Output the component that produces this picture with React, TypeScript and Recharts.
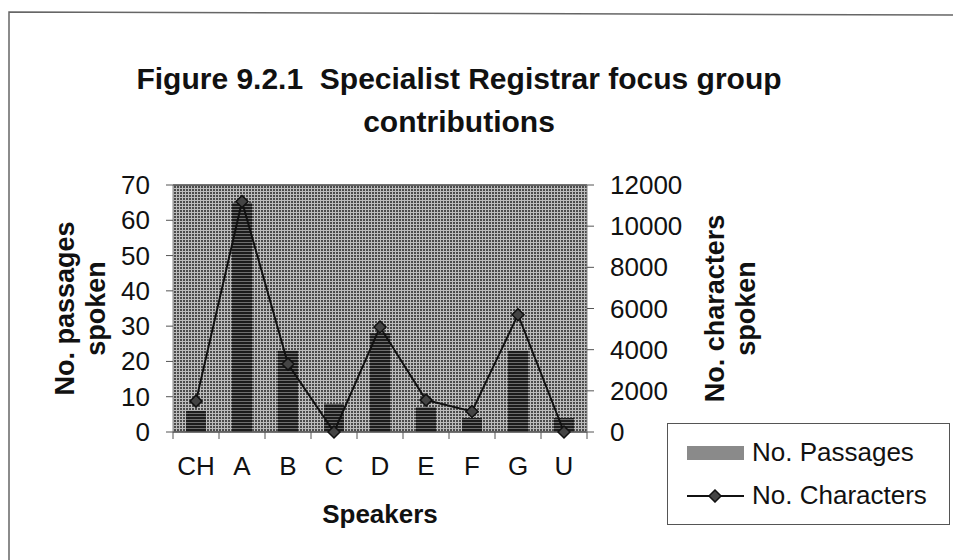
import {
  ComposedChart,
  Bar,
  Line,
  XAxis,
  YAxis,
  CartesianGrid,
  ReferenceLine,
  Label,
} from "recharts";

const categories = ["CH", "A", "B", "C", "D", "E", "F", "G", "U"];
const passages = [6, 65, 23, 8, 28, 7, 4, 23, 4];
const characters = [1500, 11200, 3300, 0, 5100, 1550, 1000, 5700, 0];
const passageTicks = [0, 10, 20, 30, 40, 50, 60, 70];
const characterTicks = [0, 2000, 4000, 6000, 8000, 10000, 12000];

const data = categories.map((name, i) => ({
  name,
  passages: passages[i],
  characters: characters[i],
}));

const FONT = "Arial, 'Liberation Sans', Helvetica, sans-serif";
const W = 953;
const H = 560;
const PLOT_LEFT = 173;
const PLOT_RIGHT = 587;
const PLOT_TOP = 185;
const PLOT_BOTTOM = 432;
const BAND = (PLOT_RIGHT - PLOT_LEFT) / categories.length;
const TICK_FONT = 26;

function LeftTick(props: any) {
  const { x, y, payload } = props;
  return (
    <text x={x} y={y} textAnchor="end" dominantBaseline="central" fontSize={TICK_FONT} fontFamily={FONT} fill="#111">
      {payload.value}
    </text>
  );
}

function RightTick(props: any) {
  const { x, y, payload } = props;
  return (
    <text x={x} y={y} textAnchor="start" dominantBaseline="central" fontSize={TICK_FONT} fontFamily={FONT} fill="#111">
      {payload.value}
    </text>
  );
}

// category labels centred, tick marks on the band boundaries
function CategoryTick(props: any) {
  const { x, payload, index } = props;
  const left = x - BAND / 2;
  const right = x + BAND / 2;
  return (
    <g>
      <line x1={left} x2={left} y1={PLOT_BOTTOM} y2={PLOT_BOTTOM + 7} stroke="#555" />
      {index === categories.length - 1 && (
        <line x1={right} x2={right} y1={PLOT_BOTTOM} y2={PLOT_BOTTOM + 7} stroke="#555" />
      )}
      <text x={x} y={PLOT_BOTTOM + 34} textAnchor="middle" dominantBaseline="central" fontSize={TICK_FONT} fontFamily={FONT} fill="#111">
        {payload.value}
      </text>
    </g>
  );
}

function Diamond(props: any) {
  const { cx, cy, index } = props;
  if (cx == null || cy == null) return <g key={index} />;
  const r = 6;
  return (
    <path
      key={index}
      d={`M${cx},${cy - r}L${cx + r},${cy}L${cx},${cy + r}L${cx - r},${cy}Z`}
      fill="#444"
      stroke="#111"
      strokeWidth={1.5}
    />
  );
}

function AxisTitle({ x, lines }: { x: number; lines: string[] }) {
  const cy = (PLOT_TOP + PLOT_BOTTOM) / 2;
  return (
    <g>
      {lines.map((t, i) => (
        <text
          key={t}
          x={x + i * 31}
          y={cy}
          transform={`rotate(-90 ${x + i * 31} ${cy})`}
          textAnchor="middle"
          dominantBaseline="central"
          fontSize={27}
          fontWeight="bold"
          fontFamily={FONT}
          fill="#111"
        >
          {t}
        </text>
      ))}
    </g>
  );
}

export default function App() {
  return (
    <div style={{ position: "relative", width: W, height: H, background: "#fff", overflow: "hidden" }}>
      <style>{`body{margin:0}`}</style>
      <ComposedChart
        width={W}
        height={H}
        data={data}
        margin={{ top: PLOT_TOP, right: 0, bottom: 0, left: 0 }}
      >
        <defs>
          <pattern id="plotBg" width="3" height="3" patternUnits="userSpaceOnUse">
            <rect width="3" height="3" fill="#bdbdbd" />
            <rect width="2" height="2" fill="#4c4c4c" />
          </pattern>
          <pattern id="barFill" width="3" height="3" patternUnits="userSpaceOnUse">
            <rect width="3" height="3" fill="#1c1c1c" />
            <rect y="2" width="3" height="1" fill="#6e6e6e" />
          </pattern>
        </defs>

        {/* chart-area frame: only the left and top edges fall inside the page */}
        <path d={`M9,${H}L9,12L${W},15`} fill="none" stroke="#666" strokeWidth={1.5} />

        <text x={459} y={78} textAnchor="middle" dominantBaseline="central" fontSize={30} fontWeight="bold" fontFamily={FONT} fill="#111" style={{ whiteSpace: "pre" }}>
          Figure 9.2.1  Specialist Registrar focus group
        </text>
        <text x={459} y={121} textAnchor="middle" dominantBaseline="central" fontSize={30} fontWeight="bold" fontFamily={FONT} fill="#111">
          contributions
        </text>

        <CartesianGrid yAxisId="p" horizontal={false} vertical={false} fill="url(#plotBg)" />

        <XAxis
          dataKey="name"
          height={H - PLOT_BOTTOM}
          tickLine={false}
          axisLine={{ stroke: "#444", strokeWidth: 1.5 }}
          tick={<CategoryTick />}
          interval={0}
        >
          <Label
            value="Speakers"
            content={() => (
              <text x={380} y={514} textAnchor="middle" dominantBaseline="central" fontSize={26} fontWeight="bold" fontFamily={FONT} fill="#111">
                Speakers
              </text>
            )}
          />
        </XAxis>
        <YAxis
          yAxisId="p"
          orientation="left"
          width={PLOT_LEFT}
          domain={[0, 70]}
          ticks={passageTicks}
          interval={0}
          tickSize={7}
          tickMargin={16}
          tickLine={{ stroke: "#555" }}
          axisLine={{ stroke: "#888" }}
          tick={<LeftTick />}
        >
          <Label content={() => <AxisTitle x={65} lines={["No. passages", "spoken"]} />} />
        </YAxis>
        <YAxis
          yAxisId="c"
          orientation="right"
          width={W - PLOT_RIGHT}
          domain={[0, 12000]}
          ticks={characterTicks}
          interval={0}
          tickSize={7}
          tickMargin={16}
          tickLine={{ stroke: "#555" }}
          axisLine={{ stroke: "#888" }}
          tick={<RightTick />}
        >
          <Label content={() => <AxisTitle x={715} lines={["No. characters", "spoken"]} />} />
        </YAxis>
        <ReferenceLine yAxisId="p" y={70} stroke="#444" strokeWidth={1.5} />

        <Bar
          yAxisId="p"
          dataKey="passages"
          name="No. Passages"
          fill="url(#barFill)"
          barSize={20}
          isAnimationActive={false}
        />
        <Line
          yAxisId="c"
          dataKey="characters"
          name="No. Characters"
          type="linear"
          stroke="#111"
          strokeWidth={2}
          dot={<Diamond />}
          activeDot={false}
          isAnimationActive={false}
        />
      </ComposedChart>

      {/* legend box */}
      <div
        style={{
          position: "absolute",
          left: 667,
          top: 423,
          width: 283,
          height: 102,
          border: "1.5px solid #555",
          background: "#fff",
          fontFamily: FONT,
          fontSize: 26,
          color: "#111",
          boxSizing: "border-box",
        }}
      >
        <div style={{ position: "absolute", left: 19, top: 13, display: "flex", alignItems: "center" }}>
          <svg width={57} height={14} style={{ display: "block" }}>
            <rect width={57} height={14} fill="#8a8a8a" />
          </svg>
          <span style={{ marginLeft: 8, whiteSpace: "nowrap" }}>No. Passages</span>
        </div>
        <div style={{ position: "absolute", left: 19, top: 56, display: "flex", alignItems: "center" }}>
          <svg width={57} height={14} style={{ display: "block" }}>
            <line x1={0} x2={57} y1={7} y2={7} stroke="#111" strokeWidth={2} />
            <path d="M28,1L34,7L28,13L22,7Z" fill="#444" stroke="#111" strokeWidth={1.5} />
          </svg>
          <span style={{ marginLeft: 8, whiteSpace: "nowrap" }}>No. Characters</span>
        </div>
      </div>
    </div>
  );
}
